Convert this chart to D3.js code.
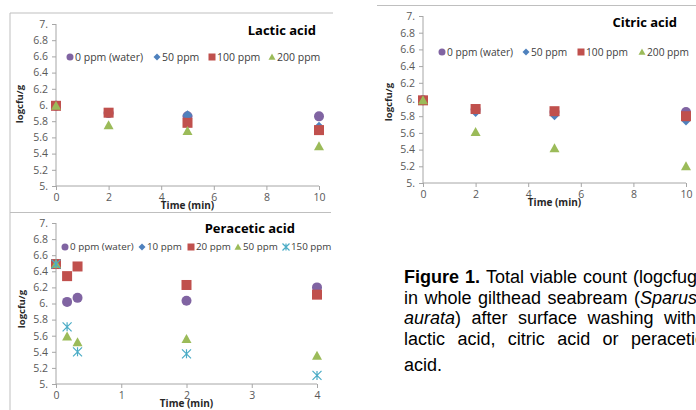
<!DOCTYPE html>
<html><head><meta charset="utf-8">
<script src="https://cdn.jsdelivr.net/npm/d3@7"></script>
<style>
html,body{margin:0;padding:0;background:#fff;overflow:hidden;}
svg{display:block;}
</style></head><body>
<svg id="c" width="696" height="410"></svg>
<script>
// ---------- DATA ----------
const yTicks = [5, 5.2, 5.4, 5.6, 5.8, 6, 6.2, 6.4, 6.6, 6.8, 7];
const yTickLabels = ["5.", "5.2", "5.4", "5.6", "5.8", "6.", "6.2", "6.4", "6.6", "6.8", "7."];

// Lactic acid
const lacticTime = [0, 2, 5, 10];
const lacticXTicks = [0, 2, 4, 6, 8, 10];
const lacticSeries = ["0 ppm (water)", "50 ppm", "100 ppm", "200 ppm"];
const lactic0 = [5.99, 5.90, 5.86, 5.86];
const lactic50 = [5.99, 5.90, 5.875, 5.73];
const lactic100 = [5.99, 5.905, 5.78, 5.69];
const lactic200 = [5.99, 5.75, 5.68, 5.49];

// Citric acid
const citricTime = [0, 2, 5, 10];
const citricXTicks = [0, 2, 4, 6, 8, 10];
const citricSeries = ["0 ppm (water)", "50 ppm", "100 ppm", "200 ppm"];
const citric0 = [5.99, 5.88, 5.85, 5.85];
const citric50 = [5.99, 5.85, 5.81, 5.75];
const citric100 = [5.99, 5.886, 5.86, 5.80];
const citric200 = [5.99, 5.61, 5.415, 5.20];

// Peracetic acid
const peraTime = [0, 0.17, 0.33, 2, 4];
const peraXTicks = [0, 1, 2, 3, 4];
const peraSeries = ["0 ppm (water)", "10 ppm", "20 ppm", "50 ppm", "150 ppm"];
const pera0 = [6.49, 6.02, 6.07, 6.035, 6.20];
const pera10 = [6.49, null, null, null, null];
const pera20 = [6.49, 6.34, 6.46, 6.23, 6.11];
const pera50 = [6.49, 5.59, 5.52, 5.56, 5.35];
const pera150 = [6.49, 5.71, 5.40, 5.375, 5.107];

// Caption text (words; style: b = bold, i = italic)
const captionLines = [
  [[["Figure", "b"]], [["1.", "b"]], [["Total"]], [["viable"]], [["count"]], [["(logcfug"], ["-1", "sup"], [")"]]],
  [[["in"]], [["whole"]], [["gilthead"]], [["seabream"]], [["("], ["Sparus", "i"]]],
  [[["aurata", "i"], [")"]], [["after"]], [["surface"]], [["washing"]], [["with"]]],
  [[["lactic"]], [["acid,"]], [["citric"]], [["acid"]], [["or"]], [["peracetic"]]],
  [[["acid."]]]
];

// ---------- STYLE / LAYOUT ----------
const C = {purple:"#8064A2", blue:"#4F81BD", red:"#C0504D", green:"#9BBB59", cyan:"#4BACC6"};
const FONT = "'Open Sans', Lato, sans-serif";
const svg = d3.select("#c");

function marker(g, type, color, x, y, s) {
  if (type === "circle") {
    g.append("circle").attr("cx", x).attr("cy", y).attr("r", s/2).attr("fill", color);
  } else if (type === "square") {
    g.append("rect").attr("x", x - s/2).attr("y", y - s/2).attr("width", s).attr("height", s).attr("fill", color);
  } else if (type === "diamond") {
    const h = s/2;
    g.append("path").attr("d", `M${x},${y-h}L${x+h},${y}L${x},${y+h}L${x-h},${y}Z`).attr("fill", color);
  } else if (type === "triangle") {
    const h = s/2;
    g.append("path").attr("d", `M${x},${y-h}L${x+h},${y+h*0.8}L${x-h},${y+h*0.8}Z`).attr("fill", color);
  } else if (type === "star") {
    const h = s/2;
    g.append("path").attr("d", `M${x-h},${y-h}L${x+h},${y+h}M${x+h},${y-h}L${x-h},${y+h}M${x},${y-h}L${x},${y+h}`)
      .attr("stroke", color).attr("stroke-width", 1.2).attr("fill", "none");
  }
}

function panel(cfg) {
  const g = svg.append("g");
  const x = d3.scaleLinear().domain(cfg.xDomain).range([cfg.x0, cfg.x1]);
  const y = d3.scaleLinear().domain([5, 7]).range([cfg.yBottom, cfg.yTop]);

  const ya = g.append("g").attr("transform", `translate(${cfg.x0},0)`)
    .call(d3.axisLeft(y).tickValues(yTicks).tickSize(4).tickPadding(4)
      .tickFormat((d, i) => yTickLabels[i]));
  ya.select(".domain").attr("stroke", "#a6a6a6").attr("d", `M-0,${cfg.yTop}V${cfg.yBottom}`);
  ya.selectAll(".tick line").attr("stroke", "#a6a6a6");
  ya.selectAll(".tick text").attr("fill", "#595959").style("font-family", FONT).style("font-size", "10.5px");

  const xa = g.append("g").attr("transform", `translate(0,${cfg.yBottom})`)
    .call(d3.axisBottom(x).tickValues(cfg.xTicks).tickSize(4).tickPadding(4).tickFormat(d3.format("d")));
  xa.select(".domain").attr("stroke", "#a6a6a6").attr("d", `M${cfg.x0},0H${cfg.x1}`);
  xa.selectAll(".tick line").attr("stroke", "#a6a6a6");
  xa.selectAll(".tick text").attr("fill", "#595959").style("font-family", FONT).style("font-size", "10.5px");

  g.append("text").attr("x", (cfg.x0 + cfg.x1) / 2).attr("y", cfg.yBottom + 23)
    .attr("text-anchor", "middle").style("font-family", FONT).style("font-weight", "bold")
    .style("font-size", "10px").attr("fill", "#262626").text("Time (min)");
  g.append("text").attr("transform", `translate(${cfg.yLabelX},${cfg.yLabelY}) rotate(-90)`)
    .attr("text-anchor", "middle").attr("dy", "0.35em").style("font-family", FONT).style("font-weight", "bold")
    .style("font-size", "9.5px").attr("fill", "#262626").text("logcfu/g");

  g.append("text").attr("x", cfg.titleX).attr("y", cfg.titleY).attr("text-anchor", "end")
    .style("font-family", FONT).style("font-weight", "bold").style("font-size", "13px")
    .attr("fill", "#000").text(cfg.title);

  cfg.series.forEach((name, i) => {
    const mx = cfg.legendX[i];
    marker(g, cfg.markers[i], cfg.colors[i], mx, cfg.legendY, 7);
    g.append("text").attr("x", mx + 5).attr("y", cfg.legendY).attr("dy", "0.35em")
      .style("font-family", FONT).style("font-size", cfg.legendFont).attr("fill", "#404040").text(name);
  });

  cfg.values.forEach((vals, i) => {
    const sg = g.append("g");
    vals.forEach((v, j) => {
      if (v == null) return;
      marker(sg, cfg.markers[i], cfg.colors[i], x(cfg.time[j]), y(v), cfg.markers[i] === "star" ? 9 : 10);
    });
  });
}

svg.append("path").attr("d", "M10,13H333M10,13V410M10,212.5H331M377,5.5H696")
  .attr("stroke", "#bfbfbf").attr("stroke-width", 1).attr("fill", "none");

panel({
  title: "Lactic acid", titleX: 316, titleY: 35,
  x0: 56, x1: 319, yTop: 24, yBottom: 186, xDomain: [0, 10], xTicks: lacticXTicks,
  yLabelX: 20, yLabelY: 104,
  time: lacticTime, series: lacticSeries,
  values: [lactic0, lactic50, lactic100, lactic200],
  markers: ["circle", "diamond", "square", "triangle"],
  colors: [C.purple, C.blue, C.red, C.green],
  legendY: 57, legendX: [70, 157, 212, 272], legendFont: "10.5px"
});

panel({
  title: "Citric acid", titleX: 677, titleY: 27,
  x0: 423, x1: 686, yTop: 16, yBottom: 183, xDomain: [0, 10], xTicks: citricXTicks,
  yLabelX: 389, yLabelY: 102,
  time: citricTime, series: citricSeries,
  values: [citric0, citric50, citric100, citric200],
  markers: ["circle", "diamond", "square", "triangle"],
  colors: [C.purple, C.blue, C.red, C.green],
  legendY: 52, legendX: [442, 526, 581, 642], legendFont: "10.2px"
});

panel({
  title: "Peracetic acid", titleX: 295, titleY: 233,
  x0: 56, x1: 317, yTop: 223, yBottom: 384, xDomain: [0, 4], xTicks: peraXTicks,
  yLabelX: 22, yLabelY: 309,
  time: peraTime, series: peraSeries,
  values: [pera0, pera10, pera20, pera50, pera150],
  markers: ["circle", "diamond", "square", "triangle", "star"],
  colors: [C.purple, C.blue, C.red, C.green, C.cyan],
  legendY: 247, legendX: [65, 142, 191, 238, 286], legendFont: "9.8px"
});

// ---------- CAPTION (justified lines) ----------
const capBaselines = [283, 304, 324, 345, 371];
const capLastStart = [633, 634, 664, 631, null];
const capLeft = 404;
const cap = svg.append("g").style("font-family", "'Liberation Sans', Arial, sans-serif")
  .style("font-size", "18px").attr("fill", "#000");
captionLines.forEach((words, li) => {
  const els = words.map(parts => {
    const t = cap.append("text").attr("x", 0).attr("y", capBaselines[li]);
    parts.forEach(p => {
      const ts = t.append("tspan").text(p[0]);
      if (p[1] === "b") ts.style("font-weight", "bold");
      if (p[1] === "i") ts.style("font-style", "italic");
      if (p[1] === "sup") ts.style("font-size", "11px").attr("dy", -7);
    });
    return t;
  });
  const widths = els.map(e => e.node().getComputedTextLength());
  let gap = 5;
  if (capLastStart[li] != null && els.length > 1) {
    const sum = widths.slice(0, -1).reduce((a, b) => a + b, 0);
    gap = (capLastStart[li] - capLeft - sum) / (els.length - 1);
  }
  let cx = capLeft;
  els.forEach((e, i) => { e.attr("x", cx); cx += widths[i] + gap; });
});
</script>
</body></html>
